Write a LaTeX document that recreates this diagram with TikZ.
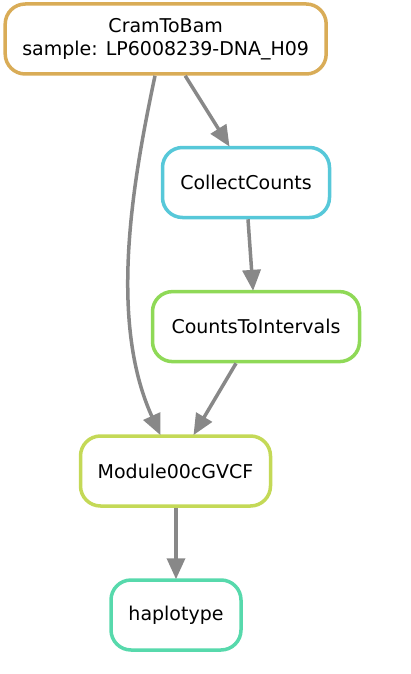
\documentclass[tikz,border=0pt]{standalone}
\usepackage{fontspec}
\setmainfont{DejaVu Sans}
\usetikzlibrary{arrows.meta}
\definecolor{cOrange}{RGB}{217,172,87}
\definecolor{cCyan}{RGB}{87,200,217}
\definecolor{cGreen}{RGB}{143,217,87}
\definecolor{cLime}{RGB}{196,217,87}
\definecolor{cTeal}{RGB}{87,217,172}
\definecolor{cEdge}{RGB}{136,136,136}
\tikzset{
  job/.style={draw, line width=3.5pt, rounded corners=20pt, fill=white,
    minimum height=70pt, align=center, inner sep=0pt,
    font=\fontsize{19}{23}\selectfont},
  arr/.style={draw=cEdge, line width=3.5pt,
    -{Triangle[length=21pt,width=18pt]}, shorten >=-1pt}
}
\begin{document}
\begin{tikzpicture}[x=1pt,y=-1pt]
\useasboundingbox (0,0) rectangle (411,674);
\node[job, draw=cOrange, minimum width=321pt] (cram) at (165.7,39) {CramToBam\\sample: LP6008239-DNA\_H09};
\node[job, draw=cCyan, minimum width=167pt] (collect) at (246,182.5) {CollectCounts};
\node[job, draw=cGreen, minimum width=207pt] (counts) at (256,326.6) {CountsToIntervals};
\node[job, draw=cLime, minimum width=190pt] (module) at (175.5,471) {Module00cGVCF};
\node[job, draw=cTeal, minimum width=130pt] (haplo) at (176,615) {haplotype};

\draw[arr] ([xshift=19.5pt]cram.south) -- ([xshift=-17pt]collect.north);
\draw[arr] ([xshift=-10.7pt]cram.south) .. controls (133,180) and (108,320) .. ([xshift=-15.5pt]module.north);
\draw[arr] ([xshift=2pt]collect.south) -- ([xshift=-3pt]counts.north);
\draw[arr] ([xshift=-20pt]counts.south) -- ([xshift=18.5pt]module.north);
\draw[arr] ([xshift=0.5pt]module.south) -- (haplo.north);
\end{tikzpicture}
\end{document}
